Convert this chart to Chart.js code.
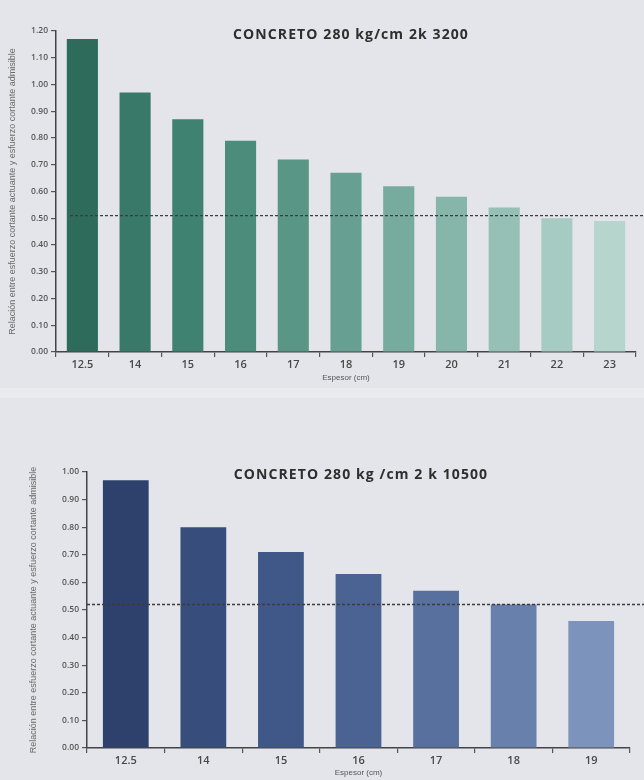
<!DOCTYPE html>
<html><head><meta charset="utf-8">
<script src="https://cdn.jsdelivr.net/npm/chart.js@4"></script>
<style>
html,body{margin:0;padding:0;background:#e3e5ea;}
#wrap{position:relative;width:644px;height:780px;overflow:hidden;background:#e3e5ea;}
.band{position:absolute;left:0;top:388px;width:644px;height:10px;background:#e9ebee;}
.box{position:absolute;left:0;width:644px;}
.title{position:absolute;font-family:"Open Sans",sans-serif;font-weight:700;font-size:14px;color:#2e2e2e;white-space:nowrap;transform:translate(-50%,-50%);letter-spacing:1.1px;}
</style></head><body>
<div id="wrap">
  <div class="band"></div>
  <div class="box" style="top:0;height:392px"><canvas id="c1"></canvas></div>
  <div class="box" style="top:400px;height:380px"><canvas id="c2"></canvas></div>
  <div class="title" style="left:351px;top:33px">CONCRETO 280 kg/cm 2k 3200</div>
  <div class="title" style="left:361px;top:473px">CONCRETO 280 kg /cm 2 k 10500</div>
</div>
<script>
// ---- data ----
const categories1 = ['12.5','14','15','16','17','18','19','20','21','22','23'];
const values1 = [1.17, 0.97, 0.87, 0.79, 0.72, 0.67, 0.62, 0.58, 0.54, 0.50, 0.49];
const threshold1 = 0.51;
const yMax1 = 1.20;

const categories2 = ['12.5','14','15','16','17','18','19'];
const values2 = [0.97, 0.80, 0.71, 0.63, 0.57, 0.52, 0.46];
const threshold2 = 0.52;
const yMax2 = 1.00;

const xTitle = 'Espesor (cm)';
const yTitle = 'Relación entre esfuerzo cortante actuante y esfuerzo cortante admisible';

// ---- styles ----
const colors1 = ['#2f6b5b','#38796a','#3f8272','#4c8c7b','#5a9686','#67a092','#76ab9e','#86b6aa','#96c0b6','#a6cbc2','#b5d5cd'];
const colors2 = ['#2d416c','#374d7c','#3f5887','#4a6392','#57709e','#6880ac','#7c93bb'];

const dashPlugin = {
  id: 'thr',
  afterDatasetsDraw(chart, args, opts) {
    const ctx = chart.ctx;
    const y = chart.scales.y.getPixelForValue(opts.value);
    const x0 = chart.chartArea.left + (opts.startOffset || 0);
    ctx.save();
    ctx.setLineDash([3, 2]);
    ctx.strokeStyle = '#3c3c3c';
    ctx.lineWidth = 1.3;
    ctx.beginPath();
    ctx.moveTo(x0, y);
    ctx.lineTo(chart.width, y);
    ctx.stroke();
    ctx.restore();
  }
};

function makeChart(id, cats, vals, cols, thr, ymax, g) {
  return new Chart(document.getElementById(id), {
    type: 'bar',
    data: { labels: cats, datasets: [{ data: vals, backgroundColor: cols, borderWidth: 0, categoryPercentage: 1, barPercentage: 0.59 }] },
    options: {
      responsive: true, maintainAspectRatio: false, animation: false,
      layout: { padding: { top: g.top, right: g.right, left: 0, bottom: 0 } },
      plugins: { legend: { display: false }, tooltip: { enabled: false }, thr: { value: thr, startOffset: g.dashStart } },
      scales: {
        x: {
          grid: { offset: true, drawOnChartArea: false, drawTicks: true, tickLength: 5, color: '#555', lineWidth: 1.2 },
          border: { display: true, color: '#444', width: 1.5 },
          ticks: { font: { family: 'Open Sans', size: 11, weight: '600' }, color: '#484848', padding: 1 },
          title: { display: true, text: xTitle, font: { family: 'Liberation Sans', size: 8 }, color: '#555', padding: { top: 0, bottom: g.xTitlePad } },
          afterFit: s => { s.height = g.xh; }
        },
        y: {
          min: 0, max: ymax,
          ticks: { stepSize: 0.1, callback: v => Number(v).toFixed(2), font: { family: 'Open Sans', size: 8.5, weight: '600' }, color: '#555', padding: 3 },
          grid: { drawOnChartArea: false, drawTicks: true, tickLength: 5, color: '#555', lineWidth: 1.2 },
          border: { display: true, color: '#444', width: 1.5 },
          title: { display: true, text: yTitle, font: { family: 'Liberation Sans', size: 9 }, color: '#6a6a6a', padding: { top: g.yTitlePad, bottom: 0 } },
          afterFit: s => { s.width = g.yw; }
        }
      }
    },
    plugins: [dashPlugin]
  });
}

makeChart('c1', categories1, values1, colors1, threshold1, yMax1,
  { top: 31, right: 8, xh: 40, yw: 56, xTitlePad: 9, yTitlePad: 7, dashStart: 14 });
makeChart('c2', categories2, values2, colors2, threshold2, yMax2,
  { top: 72, right: 14, xh: 32, yw: 87, xTitlePad: 2, yTitlePad: 28, dashStart: 0 });
</script>
</body></html>
